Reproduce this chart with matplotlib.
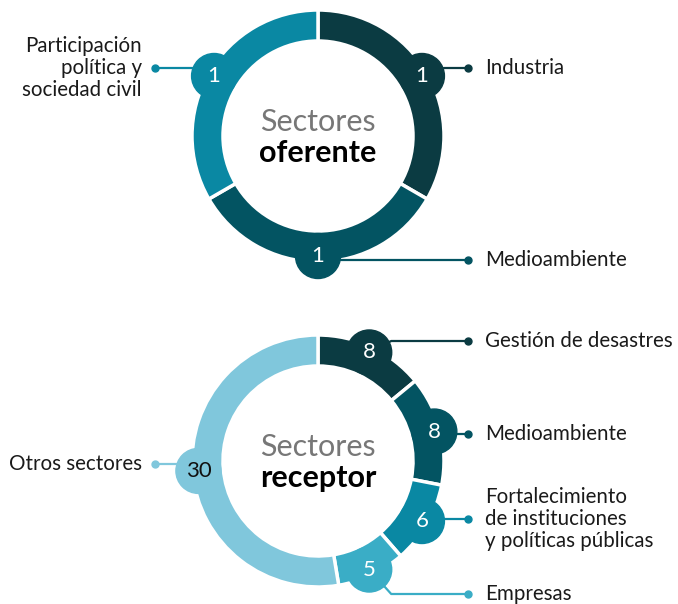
import numpy as np
import matplotlib.pyplot as plt

plt.rcParams['font.family'] = ['Lato', 'DejaVu Sans']

# Data
top_labels = ["Industria", "Medioambiente", "Participación\npolítica y\nsociedad civil"]
top_values = [1, 1, 1]
top_colors = ["#0b3b42", "#035462", "#0a88a3"]

bot_labels = ["Gestión de desastres", "Medioambiente",
              "Fortalecimiento\nde instituciones\ny políticas públicas",
              "Empresas", "Otros sectores"]
bot_values = [8, 8, 6, 5, 30]
bot_colors = ["#0b3b42", "#035462", "#0a88a3", "#3aadc6", "#80c7dc"]

W, H = 678, 604
fig = plt.figure(figsize=(W / 100, H / 100), dpi=100)
ax = fig.add_axes([0, 0, 1, 1])


def donut(center, values, colors, labels, label_pos, title, num_colors):
    cx, cy = center
    wedges, _ = ax.pie(values, colors=colors, center=center, radius=126,
                       startangle=90, counterclock=False, frame=True,
                       wedgeprops=dict(width=31, edgecolor="white", linewidth=2.5))
    for w, v, col, lab, (ly, side), nc in zip(wedges, values, colors, labels,
                                              label_pos, num_colors):
        mid = np.deg2rad((w.theta1 + w.theta2) / 2)
        bx = cx + 120 * np.cos(mid)
        by = cy + 120 * np.sin(mid)
        ax.add_patch(plt.Circle((bx, by), 22.5, color=col, zorder=4))
        ax.text(bx, by, str(v), color=nc, fontsize=16, ha="center",
                va="center", zorder=5)
        if side == "right":
            ax.plot([bx, bx + 22, 468], [by, ly, ly], color=col, lw=1.6, zorder=3)
            ax.plot(468, ly, "o", color=col, ms=5, zorder=3)
            ax.text(485, ly, lab, fontsize=14.8, ha="left", va="center",
                    color="#1a1a1a", linespacing=1.1)
        else:
            ax.plot([bx, 155], [ly, ly], color=col, lw=1.6, zorder=3)
            ax.plot(155, ly, "o", color=col, ms=5, zorder=3)
            ax.text(142, ly, lab, fontsize=14.8, ha="right", va="center",
                    color="#1a1a1a", linespacing=1.1)
    ax.text(cx, cy + 14, "Sectores", fontsize=22, color="#777777",
            ha="center", va="center")
    ax.text(cx, cy - 17, title, fontsize=22, color="#000000",
            fontweight="bold", ha="center", va="center")


donut((318, 468), top_values, top_colors, top_labels,
      [(604 - 68, "right"), (604 - 260, "right"), (604 - 68, "left")],
      "oferente", ["white"] * 3)

donut((318, 143), bot_values, bot_colors, bot_labels,
      [(604 - 341, "right"), (604 - 434, "right"), (604 - 519, "right"),
       (604 - 594, "right"), (604 - 464, "left")],
      "receptor", ["white"] * 4 + ["#111111"])

ax.set_xlim(0, W)
ax.set_ylim(0, H)
ax.set_aspect("equal")
ax.axis("off")

plt.savefig("out.png", dpi=100)
